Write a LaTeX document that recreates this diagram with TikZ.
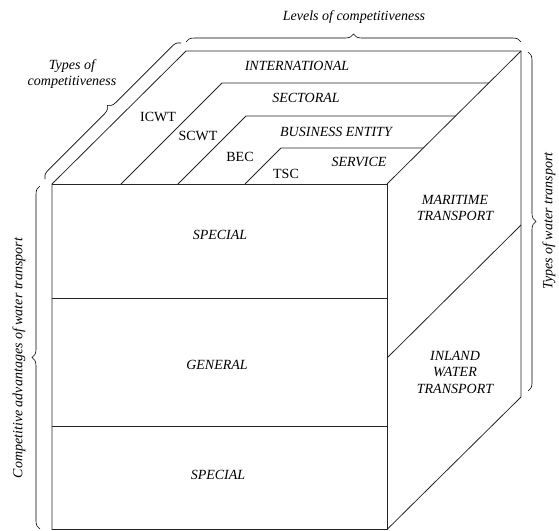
\documentclass[tikz,border=0pt]{standalone}
\usepackage{fontspec}
\setmainfont{Liberation Serif}
\usetikzlibrary{decorations.pathreplacing}

\tikzset{
  lbl/.style={font=\fontsize{14}{16.5}\selectfont\itshape,align=center,inner sep=1pt},
  tag/.style={font=\fontsize{14}{16.5}\selectfont,inner sep=1pt},
  cube line/.style={line width=0.8pt,draw=black!85},
  side brace/.style={decorate,decoration={brace,amplitude=8pt},line width=0.6pt}
}

\begin{document}
\begin{tikzpicture}[x=1pt,y=-1pt]
\useasboundingbox (0,0) rectangle (559,530);

% corners of the cube
\coordinate (ftl) at (52,184);
\coordinate (ftr) at (387,184);
\coordinate (fbr) at (387,529.5);
\coordinate (fbl) at (52,529.5);
\coordinate (btl) at (186,51);
\coordinate (btr) at (521,51);
\coordinate (bbr) at (521,397);

% rows of the front face
\coordinate (r1l) at (52,298);  \coordinate (r1r) at (387,298);
\coordinate (r2l) at (52,426);  \coordinate (r2r) at (387,426);

% split of the right face
\coordinate (s1) at (387,358);
\coordinate (s2) at (521,225);

% levels on the top face
\coordinate (a1) at (121,184); \coordinate (a2) at (222,83);  \coordinate (a3) at (488.8,83);
\coordinate (b1) at (178,184); \coordinate (b2) at (246,116); \coordinate (b3) at (455.5,116);
\coordinate (c1) at (245,184); \coordinate (c2) at (281,148); \coordinate (c3) at (423.3,148);

\draw[cube line] (fbl) -- (ftl) -- (btl) -- (btr) -- (bbr) -- (fbr) -- cycle;
\draw[cube line] (ftl) -- (ftr) -- (fbr);
\draw[cube line] (ftr) -- (btr);
\draw[cube line] (r1l) -- (r1r);
\draw[cube line] (r2l) -- (r2r);
\draw[cube line] (s1) -- (s2);
\draw[cube line] (a1) -- (a2) -- (a3);
\draw[cube line] (b1) -- (b2) -- (b3);
\draw[cube line] (c1) -- (c2) -- (c3);

% labels
\node[lbl] (intl) at (297,66) {INTERNATIONAL};
\node[lbl] (sect) at (306,98) {SECTORAL};
\node[lbl] (bent) at (336,132) {BUSINESS ENTITY};
\node[lbl] (serv) at (359,162) {SERVICE};

\node[tag] (icwt) at (158,117) {ICWT};
\node[tag] (scwt) at (198,136) {SCWT};
\node[tag] (bec) at (240,157) {BEC};
\node[tag] (tsc) at (286,174) {TSC};

\node[lbl] (spec1) at (220,235) {SPECIAL};
\node[lbl] (gen) at (217,365) {GENERAL};
\node[lbl] (spec2) at (218,475) {SPECIAL};

\node[lbl] (mar) at (455,208) {MARITIME\\TRANSPORT};
\node[lbl] (inl) at (455,372) {INLAND\\WATER\\TRANSPORT};

% braces
\coordinate (tb1) at (186,42);  \coordinate (tb2) at (521,42);
\coordinate (db1) at (45,179);  \coordinate (db2) at (181,43);
\coordinate (lb1) at (40,529);  \coordinate (lb2) at (40,186);
\coordinate (rb1) at (528,52);  \coordinate (rb2) at (528,391);

\draw[side brace] (tb1) -- (tb2);
\draw[side brace] (db1) -- (db2);
\draw[side brace] (lb1) -- (lb2);
\draw[side brace] (rb1) -- (rb2);

\node[lbl] (lev) at (354,17) {Levels of competitiveness};
\node[lbl] (typ) at (72,74) {Types of\\competitiveness};
\node[lbl,rotate=90] (adv) at (19,358) {Competitive advantages of water transport};
\node[lbl,rotate=90] (wtr) at (549,221) {Types of water transport};
\end{tikzpicture}
\end{document}
